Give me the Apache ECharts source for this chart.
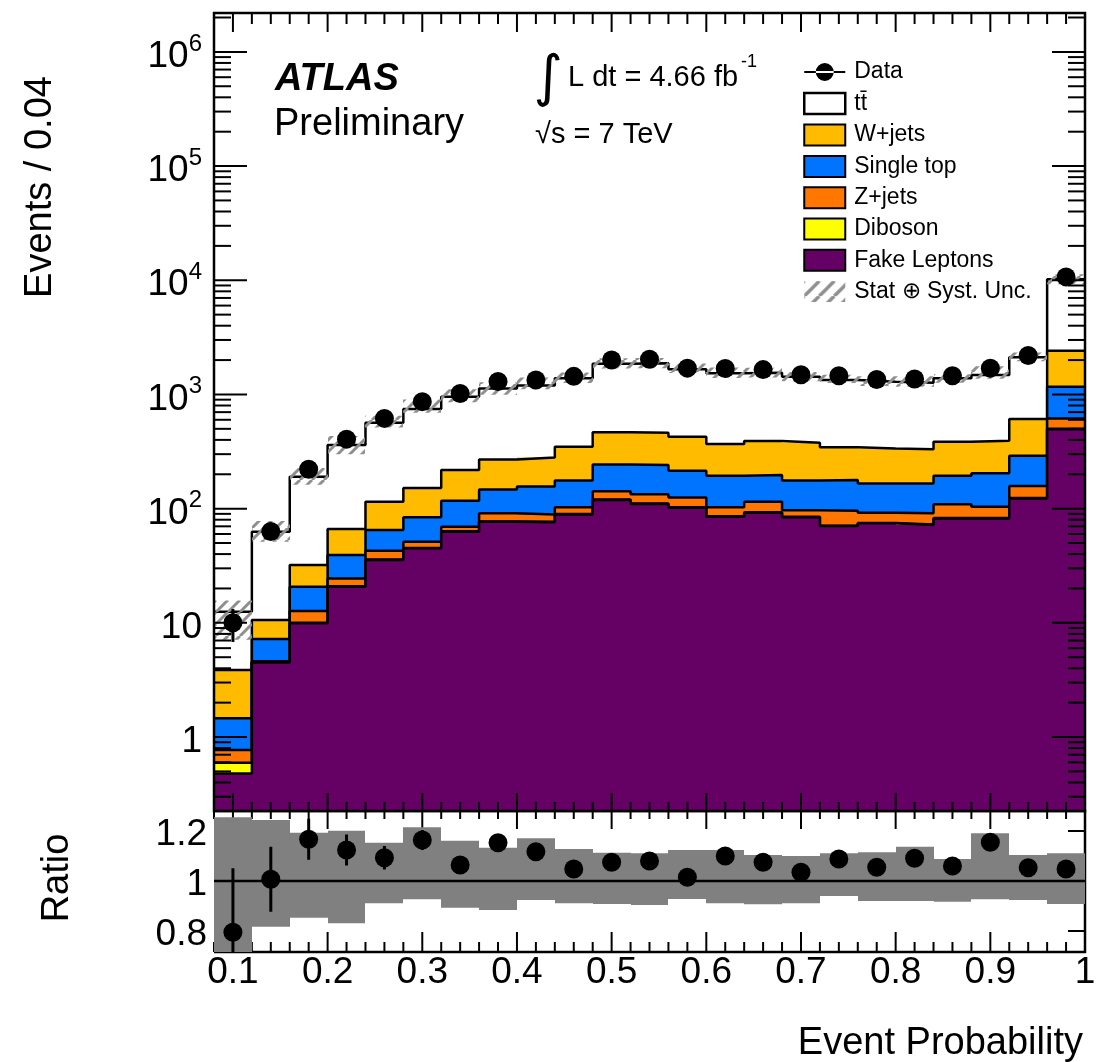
<!DOCTYPE html>
<html>
<head>
<meta charset="utf-8">
<script src="https://cdn.jsdelivr.net/npm/echarts@6/dist/echarts.min.js"></script>
<style>
html,body{margin:0;padding:0;background:#fff;}
#c{width:1111px;height:1062px;}
</style>
</head>
<body>
<div id="c"></div>
<script>
// ---------------- data ----------------
const binEdges = [0.08,0.12,0.16,0.20,0.24,0.28,0.32,0.36,0.40,0.44,0.48,0.52,0.56,0.60,0.64,0.68,0.72,0.76,0.80,0.84,0.88,0.92,0.96,1.00];
const fakeLeptons = [0.48,4.5,9.9,20.7,35.5,44.9,62.8,76.7,76,89,119,110,102,85,92,84,70.4,74.3,71.8,82,82,123,495];
const diboson     = [0.116,0.02,0.1,0.2,0.4,0.4,0.5,0.6,0.6,0.7,1.0,1.0,1.0,0.8,0.8,0.8,0.6,0.7,0.7,0.8,0.8,1.0,5];
const zJets       = [0.174,0.08,2.7,3.6,6.9,6.0,6.1,13.7,12.4,13.3,22,23,22,17.2,22.2,12.2,25,17,18.5,26.2,21.2,34,117];
const singleTop   = [0.69,2.61,8.0,14.7,22.2,32.7,47.6,56,67,73,102,107,90,91,82,79,82,74,75,85,100,132,550];
const wJets       = [2.4,3.39,11.4,27.1,50,68,101,123,125,172,222,222,211,174,194,201,166,171,165,191,189,319,1247];
const ttbar       = [8.64,52.2,157.9,293.7,450,593,737,857,919,1035,1394,1417,1234,1162,1159,1053,993,955,936,998,1087,1504,7766];
const dataEvents  = [10,63,221,406,617,865,1019,1300,1340,1440,2000,2030,1700,1688,1650,1490,1456,1350,1368,1458,1700,2195,10700];
const dataErr     = [3.2,8,15,20,25,29,32,36,37,38,45,45,41,41,41,39,38,37,37,38,41,47,103];
const ratioVals   = [0.795,1.007,1.167,1.124,1.093,1.164,1.064,1.153,1.117,1.048,1.075,1.08,1.015,1.1,1.075,1.035,1.088,1.055,1.091,1.06,1.155,1.053,1.048];
const ratioErr    = [0.256,0.13,0.082,0.062,0.047,0.04,0.035,0.032,0.03,0.03,0.025,0.025,0.027,0.027,0.027,0.028,0.028,0.029,0.029,0.028,0.027,0.024,0.011];
const uncUp       = [1.255,1.244,1.193,1.201,1.153,1.215,1.161,1.133,1.171,1.128,1.113,1.111,1.124,1.124,1.104,1.1,1.111,1.115,1.137,1.088,1.191,1.104,1.111];
const uncDown     = [0.57,0.817,0.853,0.831,0.911,0.927,0.893,0.884,0.924,0.911,0.908,0.904,0.928,0.911,0.907,0.911,0.94,0.92,0.92,0.917,0.927,0.924,0.908];
const xMajorTicks = [0.1,0.2,0.3,0.4,0.5,0.6,0.7,0.8,0.9,1.0];
const xTickLabels = ['0.1','0.2','0.3','0.4','0.5','0.6','0.7','0.8','0.9','1'];
const yMajorTicks = [1,10,100,1000,10000,100000,1000000];
const ratioMajorTicks = [0.8,1.0,1.2];
const ratioTickLabels = ['0.8','1','1.2'];

// ---------------- config ----------------
const FONT = '"Liberation Sans", Arial, Helvetica, sans-serif';
const X_MIN = 0.08, X_MAX = 1.0;
const Y_MIN = 0.225, Y_MAX = 2.19e6;
const R_MIN = 0.716, R_MAX = 1.28;
const nb = binEdges.length - 1;

const xMinorTicks = [];
for (let i = 4; i <= 50; i++) { if (i % 5) xMinorTicks.push(+(i * 0.02).toFixed(2)); }
const yMinorTicks = [];
for (let k = -1; k <= 6; k++) for (let m = 2; m <= 9; m++) {
  const v = m * Math.pow(10, k);
  if (v > Y_MIN && v < Y_MAX) yMinorTicks.push(v);
}

const layers = [
  {name: 'Fake Leptons', vals: fakeLeptons, color: '#650065'},
  {name: 'Diboson', vals: diboson, color: '#FFFF00'},
  {name: 'Z+jets', vals: zJets, color: '#FF7700'},
  {name: 'Single top', vals: singleTop, color: '#0073FF'},
  {name: 'W+jets', vals: wJets, color: '#FFBB00'},
  {name: 'tt\u0304', vals: ttbar, color: '#FFFFFF'}
];
const run = new Array(nb).fill(0);
layers.forEach(L => { L.cum = L.vals.map((v, i) => (run[i] += v)); });
const total = layers[layers.length - 1].cum;

// hatch pattern
function makeHatch(size, lw, color) {
  const c = document.createElement('canvas');
  c.width = size; c.height = size;
  const g = c.getContext('2d');
  g.strokeStyle = color; g.lineWidth = lw; g.lineCap = 'butt';
  g.beginPath();
  for (let o = -size; o <= size; o += size) {
    g.moveTo(o, size); g.lineTo(o + size, 0);
  }
  g.stroke();
  return {image: c, repeat: 'repeat'};
}
const hatch = makeHatch(12, 3, '#8f8f8f');
const hatchLegend = makeHatch(15, 3.5, '#8f8f8f');

function rectRender(fill) {
  return function (params, api) {
    const p0 = api.coord([api.value(0), api.value(3)]);
    const p1 = api.coord([api.value(1), api.value(2)]);
    const x0 = Math.round(p0[0]), x1 = Math.round(p1[0]);
    return {type: 'rect', shape: {x: x0, y: p0[1], width: x1 - x0, height: p1[1] - p0[1]}, style: {fill: fill}};
  };
}
function pointRender(yFloor) {
  return function (params, api) {
    const x = api.value(0), y = api.value(1), e = api.value(2);
    const c = api.coord([x, y]);
    const hi = api.coord([x, y + e]);
    const lo = api.coord([x, Math.max(y - e, yFloor)]);
    return {type: 'group', children: [
      {type: 'line', shape: {x1: c[0], y1: hi[1], x2: c[0], y2: lo[1]}, style: {stroke: '#000', lineWidth: 3}},
      {type: 'circle', shape: {cx: c[0], cy: c[1], r: 9.5}, style: {fill: '#000'}}
    ]};
  };
}
function tickRender(xr, yr, L) {
  return function (params, api) {
    const a = api.value(0), b = api.value(1), k = api.value(2);
    const st = {stroke: '#000', lineWidth: 2};
    const ln = (x1, y1, x2, y2) => ({type: 'line', shape: {x1, y1, x2, y2}, style: st});
    if (k === 0 || k === 1) {
      const len = k === 0 ? L.xMaj : L.xMin;
      const pb = api.coord([a, yr[0]]), pt = api.coord([a, yr[1]]);
      return {type: 'group', children: [ln(pb[0], pb[1], pb[0], pb[1] - len[0]), ln(pt[0], pt[1], pt[0], pt[1] + len[1])]};
    }
    if (k === 2 || k === 3) {
      const len = k === 2 ? L.yMaj : L.yMin;
      const pl = api.coord([xr[0], b]), pr = api.coord([xr[1], b]);
      return {type: 'group', children: [ln(pl[0], pl[1], pl[0] + len, pl[1]), ln(pr[0], pr[1], pr[0] - len, pr[1])]};
    }
    const p0 = api.coord([xr[0], yr[1]]), p1 = api.coord([xr[1], yr[0]]);
    if (L.noLeft) {
      return {type: 'polyline', shape: {points: [[p0[0], p0[1]], [p1[0], p0[1]], [p1[0], p1[1]], [p0[0], p1[1]]]},
        style: {stroke: '#000', lineWidth: 2.5, fill: null}};
    }
    return {type: 'rect', shape: {x: p0[0], y: p0[1], width: p1[0] - p0[0], height: p1[1] - p0[1]},
      style: {stroke: '#000', lineWidth: 2.5, fill: null}};
  };
}
function tickData(yMid, yMaj, yMin) {
  const d = [];
  xMajorTicks.forEach(v => d.push([v, yMid, 0]));
  xMinorTicks.forEach(v => d.push([v, yMid, 1]));
  yMaj.forEach(v => d.push([0.5, v, 2]));
  yMin.forEach(v => d.push([0.5, v, 3]));
  d.push([0.5, yMid, 4]);
  return d;
}

// ---------------- series ----------------
const series = [];
let z = 2;
layers.slice().reverse().forEach(L => {
  series.push({
    type: 'custom', name: L.name, xAxisIndex: 0, yAxisIndex: 0, z: z++, clip: true,
    itemStyle: {color: L.color}, encode: {x: [0, 1], y: [2, 3]},
    data: L.cum.map((c, i) => [binEdges[i], binEdges[i + 1], Y_MIN, c]),
    renderItem: rectRender(L.color), silent: true
  });
  series.push({
    type: 'line', name: L.name + ' outline', xAxisIndex: 0, yAxisIndex: 0, z: z++, step: 'end',
    symbol: 'none', silent: true, clip: true, lineStyle: {color: '#000', width: 2.5},
    data: L.cum.map((c, i) => [binEdges[i], c]).concat([[binEdges[nb], L.cum[nb - 1]]])
  });
});
series.push({
  type: 'custom', name: 'Stat \u2295 Syst. Unc.', xAxisIndex: 0, yAxisIndex: 0, z: z++, clip: true,
  itemStyle: {color: '#8f8f8f'}, encode: {x: [0, 1], y: [2, 3]},
  data: total.map((t, i) => [binEdges[i], binEdges[i + 1], t * uncDown[i], t * uncUp[i]]),
  renderItem: rectRender(hatch), silent: true
});
series.push({
  type: 'custom', name: 'Data', xAxisIndex: 0, yAxisIndex: 0, z: z++, clip: true,
  itemStyle: {color: '#000'}, encode: {x: 0, y: 1},
  data: dataEvents.map((v, i) => [(binEdges[i] + binEdges[i + 1]) / 2, v, dataErr[i]]),
  renderItem: pointRender(Y_MIN), silent: true
});
series.push({
  type: 'custom', name: 'ticks upper', xAxisIndex: 0, yAxisIndex: 0, z: 40, clip: false, silent: true,
  encode: {x: 0, y: 1}, data: tickData(1, yMajorTicks, yMinorTicks),
  renderItem: tickRender([X_MIN, X_MAX], [Y_MIN, Y_MAX], {xMaj: [18, 19], xMin: [9, 11], yMaj: 33, yMin: 17})
});
// ratio panel
series.push({
  type: 'custom', name: 'ticks ratio', xAxisIndex: 1, yAxisIndex: 1, z: 1, clip: false, silent: true,
  encode: {x: 0, y: 1}, data: tickData(1, ratioMajorTicks, []),
  renderItem: tickRender([X_MIN, X_MAX], [R_MIN, R_MAX], {xMaj: [20, 18], xMin: [10, 8], yMaj: 17, yMin: 0, noLeft: true})
});
series.push({
  type: 'custom', name: 'ratio band', xAxisIndex: 1, yAxisIndex: 1, z: 2, clip: true, silent: true,
  encode: {x: [0, 1], y: [2, 3]},
  data: uncUp.map((u, i) => [binEdges[i], binEdges[i + 1], uncDown[i], u]),
  renderItem: rectRender('#808080')
});
series.push({
  type: 'line', name: 'unity', xAxisIndex: 1, yAxisIndex: 1, z: 3, symbol: 'none', silent: true,
  lineStyle: {color: '#000', width: 2.5}, data: [[X_MIN, 1], [X_MAX, 1]]
});
series.push({
  type: 'custom', name: 'ratio data', xAxisIndex: 1, yAxisIndex: 1, z: 4, clip: true, silent: true,
  encode: {x: 0, y: 1},
  data: ratioVals.map((v, i) => [(binEdges[i] + binEdges[i + 1]) / 2, v, ratioErr[i]]),
  renderItem: pointRender(R_MIN - 1)
});

function isNear(a, b) { return Math.abs(a - b) < 1e-6; }

const option = {
  animation: false,
  backgroundColor: '#fff',
  grid: [
    {left: 214, top: 13, width: 871, height: 798, containLabel: false},
    {left: 214, top: 811, width: 871, height: 141, containLabel: false}
  ],
  xAxis: [
    {type: 'value', gridIndex: 0, min: X_MIN, max: X_MAX, show: false},
    {type: 'value', gridIndex: 1, min: X_MIN, max: X_MAX, splitNumber: 10,
      axisLine: {show: false}, axisTick: {show: false}, splitLine: {show: false},
      axisLabel: {show: true, margin: 2, fontSize: 37, fontFamily: FONT, color: '#000',
        formatter: function (v) {
          for (let i = 0; i < xMajorTicks.length; i++) if (isNear(v, xMajorTicks[i])) return xTickLabels[i];
          return '';
        }}}
  ],
  yAxis: [
    {type: 'log', gridIndex: 0, min: Y_MIN, max: Y_MAX, logBase: 10,
      axisLine: {show: false}, axisTick: {show: false}, splitLine: {show: false},
      axisLabel: {show: true, margin: 12, color: '#000',
        formatter: function (v) {
          const lg = Math.log10(v), e = Math.round(lg);
          if (Math.abs(lg - e) > 1e-6) return '';
          if (yMajorTicks.indexOf(Math.pow(10, e)) < 0) return '';
          if (e === 0) return '{b|1}';
          if (e === 1) return '{b|10}';
          return '{b|10}{s|' + e + '}';
        },
        rich: {
          b: {fontSize: 37, fontFamily: FONT, color: '#000', padding: [10, 0, 0, 0]},
          s: {fontSize: 24, fontFamily: FONT, color: '#000', padding: [0, 0, 16, 0]}
        }}},
    {type: 'value', gridIndex: 1, min: R_MIN, max: R_MAX, splitNumber: 3,
      axisLine: {show: false}, axisTick: {show: false}, splitLine: {show: false},
      axisLabel: {show: true, margin: 7, color: '#000',
        formatter: function (v) {
          for (let i = 0; i < ratioMajorTicks.length; i++) if (isNear(v, ratioMajorTicks[i])) return '{r|' + ratioTickLabels[i] + '}';
          return '';
        },
        rich: {r: {fontSize: 37, fontFamily: FONT, color: '#000', padding: [8, 0, 0, 0]}}}}
  ],
  legend: {
    orient: 'vertical', left: 803, top: 60.5, padding: 0,
    itemWidth: 41, itemHeight: 21, itemGap: 8.3, selectedMode: false,
    textStyle: {fontFamily: FONT, fontSize: 23, color: '#000', lineHeight: 21, padding: [0, 0, 0, 4]},
    data: [
      {name: 'Data', icon: 'path://M0,9.5H41V11.5H0Z M11.5,10.5A9,9,0,1,0,29.5,10.5A9,9,0,1,0,11.5,10.5Z',
        itemStyle: {color: '#000', borderWidth: 0}},
      {name: 'tt\u0304', icon: 'rect', itemStyle: {color: '#fff', borderColor: '#000', borderWidth: 2.5}},
      {name: 'W+jets', icon: 'rect', itemStyle: {color: '#FFBB00', borderColor: '#000', borderWidth: 2}},
      {name: 'Single top', icon: 'rect', itemStyle: {color: '#0073FF', borderColor: '#000', borderWidth: 2}},
      {name: 'Z+jets', icon: 'rect', itemStyle: {color: '#FF7700', borderColor: '#000', borderWidth: 2}},
      {name: 'Diboson', icon: 'rect', itemStyle: {color: '#FFFF00', borderColor: '#000', borderWidth: 2}},
      {name: 'Fake Leptons', icon: 'rect', itemStyle: {color: '#650065', borderColor: '#000', borderWidth: 2}},
      {name: 'Stat \u2295 Syst. Unc.', icon: 'rect', itemStyle: {color: hatchLegend, borderWidth: 0}}
    ]
  },
  graphic: [
    {type: 'text', z: 50, x: 275, y: 79.5, style: {text: 'ATLAS', font: 'italic bold 38px ' + FONT, fill: '#000', align: 'left', verticalAlign: 'middle'}},
    {type: 'text', z: 50, x: 274, y: 125, style: {text: 'Preliminary', font: '38px ' + FONT, fill: '#000', align: 'left', verticalAlign: 'middle'}},
    {type: 'text', z: 50, x: 548, y: 80.5, style: {text: '\u222B', font: '56px "DejaVu Sans"', fill: '#000', align: 'center', verticalAlign: 'middle'}},
    {type: 'text', z: 50, x: 568, y: 77.6, style: {text: 'L dt = 4.66 fb', font: '29px ' + FONT, fill: '#000', align: 'left', verticalAlign: 'middle'}},
    {type: 'text', z: 50, x: 741, y: 62, style: {text: '-1', font: '18px ' + FONT, fill: '#000', align: 'left', verticalAlign: 'middle'}},
    {type: 'text', z: 50, x: 535, y: 134.6, style: {text: '\u221As = 7 TeV', font: '29px ' + FONT, fill: '#000', align: 'left', verticalAlign: 'middle'}},
    {type: 'text', z: 50, x: 41, y: 187, rotation: Math.PI / 2, style: {text: 'Events / 0.04', font: '38px ' + FONT, fill: '#000', align: 'center', verticalAlign: 'middle'}},
    {type: 'text', z: 50, x: 58, y: 878, rotation: Math.PI / 2, style: {text: 'Ratio', font: '38px ' + FONT, fill: '#000', align: 'center', verticalAlign: 'middle'}},
    {type: 'text', z: 50, x: 1083, y: 1043.5, style: {text: 'Event Probability', font: '38px ' + FONT, fill: '#000', align: 'right', verticalAlign: 'middle'}}
  ],
  series: series
};

const chart = echarts.init(document.getElementById('c'), null, {renderer: 'canvas'});
chart.setOption(option);
</script>
</body>
</html>
